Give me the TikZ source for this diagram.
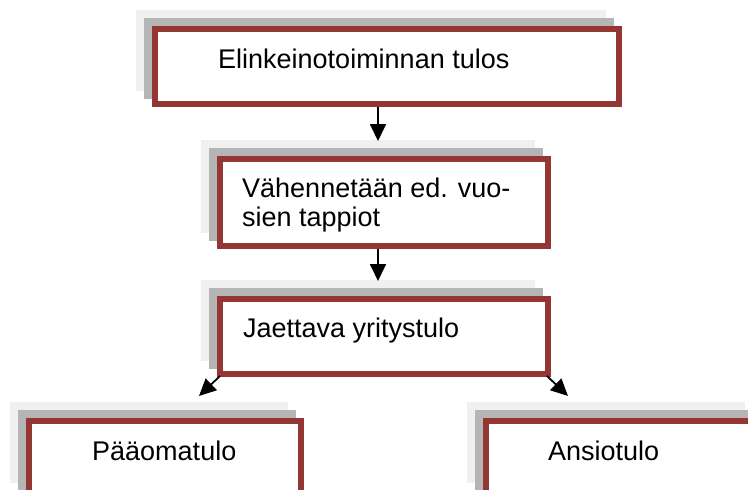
\documentclass[tikz,border=0pt]{standalone}
\usepackage{fontspec}
\setmainfont{Liberation Sans}
\usetikzlibrary{arrows.meta}
\definecolor{boxred}{HTML}{943634}
\definecolor{shdark}{HTML}{B5B5B5}
\definecolor{shlight}{HTML}{F0F0F0}
\tikzset{
  redbox/.style={draw=boxred, line width=6pt, fill=white, inner sep=0pt, rectangle},
  shadowbox/.style={inner sep=0pt, outer sep=0pt, rectangle, draw=none},
  lbl/.style={anchor=base west, inner sep=0pt, font=\fontsize{27}{30}\selectfont, text=black},
  arr/.style={line width=1.8pt, -{Triangle[width=16pt,length=17pt]}}
}
% #1 name, #2 cx, #3 cy, #4 outer width, #5 outer height
\newcommand\mkshbox[5]{%
  \node[shadowbox, fill=shlight, minimum width=#4pt, minimum height=#5pt] (#1l) at (#2-16,#3-16) {};
  \node[shadowbox, fill=shdark, minimum width=#4pt, minimum height=#5pt] (#1d) at (#2-8,#3-8) {};
  \node[redbox, minimum width=#4pt-6pt, minimum height=#5pt-6pt] (#1) at (#2,#3) {};
}
\begin{document}
\begin{tikzpicture}[x=1pt,y=-1pt]
\useasboundingbox (0,0) rectangle (748,490);
\clip (0,0) rectangle (748,490);
\fill[white] (0,0) rectangle (748,490);

\mkshbox{b1}{387}{66.5}{470}{81}
\mkshbox{b2}{384}{202.5}{334}{93}
\mkshbox{b3}{384}{336.5}{334}{81}
\mkshbox{b4}{165}{458.5}{278}{81}
\mkshbox{b5}{622}{458.5}{278}{81}

\node[lbl] (t1) at (218,68) {Elinkeinotoiminnan tulos};
\node[lbl] (t2a) at (242,197) {Vähennetään ed. vuo-};
\node[lbl] (t2b) at (242,226) {sien tappiot};
\node[lbl] (t3) at (243,337) {Jaettava yritystulo};
\node[lbl] (t4) at (92,460) {Pääomatulo};
\node[lbl] (t5) at (548,460) {Ansiotulo};

\coordinate (e4) at (199,396);
\coordinate (e5) at (568,396);

\draw[arr] ([xshift=-9pt]b1.south) -- ([xshift=-9pt,yshift=-1pt]b2l.north -| b1.south);
\draw[arr] ([xshift=-6pt]b2.south) -- ([xshift=-6pt,yshift=-1pt]b3l.north -| b2.south);
\draw[arr] ([xshift=3pt,yshift=1pt]b3.south west) -- (e4);
\draw[arr] ([xshift=-4pt,yshift=1pt]b3.south east) -- (e5);
\end{tikzpicture}
\end{document}
